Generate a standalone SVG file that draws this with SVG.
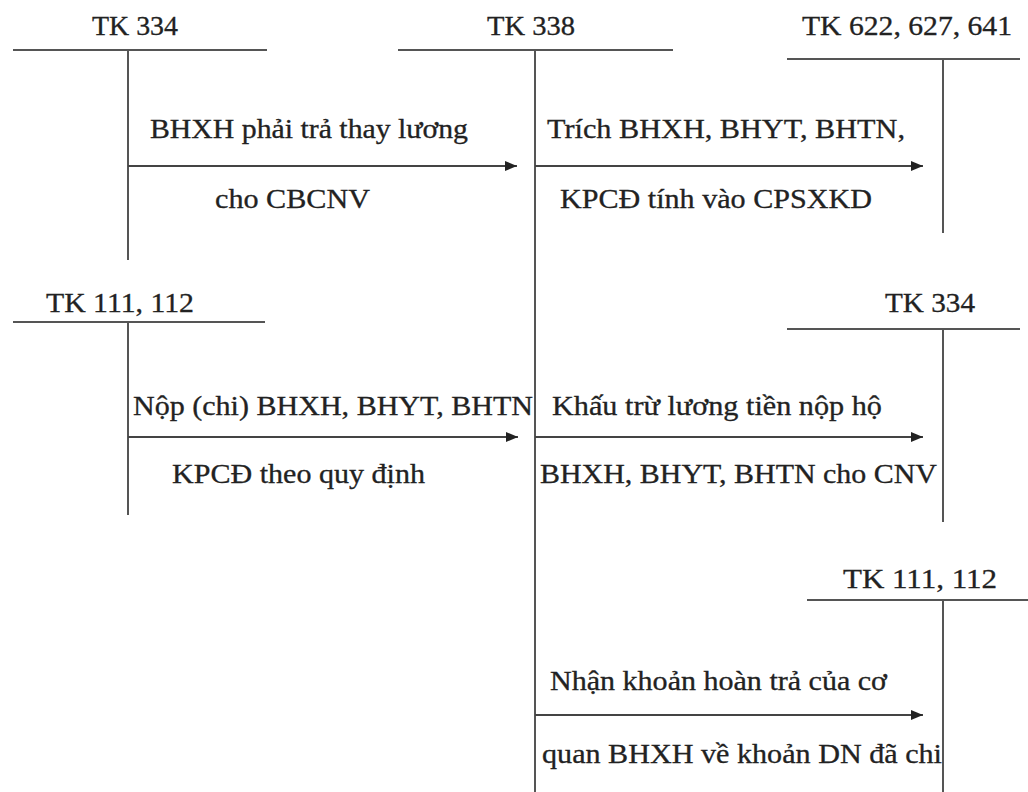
<svg xmlns="http://www.w3.org/2000/svg" width="1028" height="792" viewBox="0 0 1028 792">
<style>
.ln{stroke:#555;stroke-width:2;fill:none}
.ar{stroke:#444;stroke-width:2;fill:none;marker-end:url(#ah)}
text{font-family:"Liberation Serif","Times New Roman",serif;font-size:26.5px;fill:#222;stroke:#222;stroke-width:0.3}
</style>
<defs>
<marker id="ah" markerUnits="userSpaceOnUse" markerWidth="12" markerHeight="10" refX="12" refY="5" orient="auto">
<path d="M0,0 L12,5 L0,10 z" fill="#222"/>
</marker>
</defs>
<rect width="1028" height="792" fill="#fff"/>
<g id="tk334-top">
<text x="92" y="35" textLength="86" lengthAdjust="spacingAndGlyphs">TK 334</text>
<line class="ln" x1="13" y1="50" x2="267" y2="50"/>
<line class="ln" x1="128" y1="50" x2="128" y2="260"/>
</g>
<g id="tk338">
<text x="487" y="35" textLength="88" lengthAdjust="spacingAndGlyphs">TK 338</text>
<line class="ln" x1="398" y1="50" x2="673" y2="50"/>
<line class="ln" x1="535" y1="50" x2="535" y2="792"/>
</g>
<g id="tk622">
<text x="802" y="35" textLength="210" lengthAdjust="spacingAndGlyphs">TK 622, 627, 641</text>
<line class="ln" x1="787" y1="59" x2="1020" y2="59"/>
<line class="ln" x1="943" y1="59" x2="943" y2="233"/>
</g>
<g id="tk111-left">
<text x="46" y="312" textLength="148" lengthAdjust="spacingAndGlyphs">TK 111, 112</text>
<line class="ln" x1="13" y1="322" x2="265" y2="322"/>
<line class="ln" x1="128" y1="322" x2="128" y2="515"/>
</g>
<g id="tk334-right">
<text x="885" y="312" textLength="90" lengthAdjust="spacingAndGlyphs">TK 334</text>
<line class="ln" x1="787" y1="329" x2="1020" y2="329"/>
<line class="ln" x1="943" y1="329" x2="943" y2="522"/>
</g>
<g id="tk111-right">
<text x="843" y="588" textLength="154" lengthAdjust="spacingAndGlyphs">TK 111, 112</text>
<line class="ln" x1="807" y1="600" x2="1028" y2="600"/>
<line class="ln" x1="943" y1="600" x2="943" y2="792"/>
</g>
<g id="connectors">
<line class="ar" x1="128" y1="166" x2="517" y2="166"/>
<line class="ar" x1="535" y1="166" x2="923" y2="166"/>
<line class="ar" x1="128" y1="437" x2="518" y2="437"/>
<line class="ar" x1="535" y1="437" x2="923" y2="437"/>
<line class="ar" x1="535" y1="715" x2="923" y2="715"/>
</g>
<g id="labels">
<text x="150" y="138" textLength="318" lengthAdjust="spacingAndGlyphs">BHXH phải trả thay lương</text>
<text x="215" y="208" textLength="155" lengthAdjust="spacingAndGlyphs">cho CBCNV</text>
<text x="547" y="138" textLength="358" lengthAdjust="spacingAndGlyphs">Trích BHXH, BHYT, BHTN,</text>
<text x="560" y="208" textLength="312" lengthAdjust="spacingAndGlyphs">KPCĐ tính vào CPSXKD</text>
<text x="133" y="415" textLength="400" lengthAdjust="spacingAndGlyphs">Nộp (chi) BHXH, BHYT, BHTN</text>
<text x="172" y="483" textLength="253" lengthAdjust="spacingAndGlyphs">KPCĐ theo quy định</text>
<text x="552" y="415" textLength="330" lengthAdjust="spacingAndGlyphs">Khấu trừ lương tiền nộp hộ</text>
<text x="540" y="483" textLength="397" lengthAdjust="spacingAndGlyphs">BHXH, BHYT, BHTN cho CNV</text>
<text x="550" y="690" textLength="337" lengthAdjust="spacingAndGlyphs">Nhận khoản hoàn trả của cơ</text>
<text x="542" y="763" textLength="400" lengthAdjust="spacingAndGlyphs">quan BHXH về khoản DN đã chi</text>
</g>
</svg>
